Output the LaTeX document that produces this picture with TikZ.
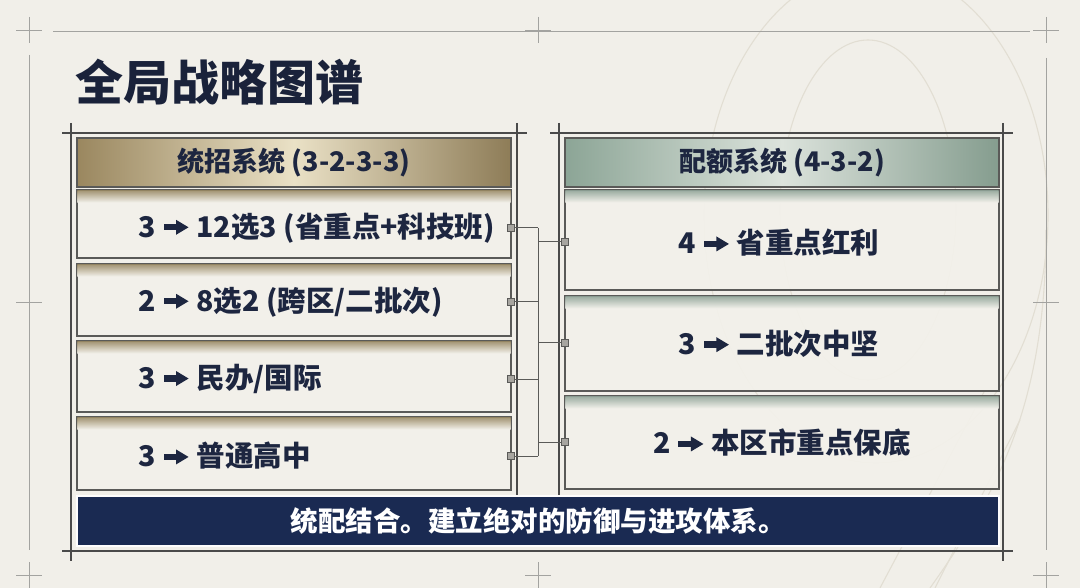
\documentclass[tikz,border=0pt]{standalone}
\usepackage{fontspec}
\newfontfamily\cjk{Noto Sans CJK SC}
\usetikzlibrary{calc}
\definecolor{bg}{HTML}{F1EFE9}
\definecolor{navy}{HTML}{1D2640}
\definecolor{barnavy}{HTML}{1A2A52}
\definecolor{boxline}{HTML}{5A5A58}
\definecolor{frameD}{HTML}{4A4A4A}
\definecolor{frameL}{HTML}{A3A3A0}
\definecolor{goldD}{HTML}{9A875F}
\definecolor{goldL}{HTML}{EAE1C6}
\definecolor{goldS}{HTML}{9C8C68}
\definecolor{sageD}{HTML}{8CA596}
\definecolor{sageL}{HTML}{DCE3DC}
\definecolor{sageS}{HTML}{93A69A}
\definecolor{rowfill}{HTML}{F3F1EB}
\definecolor{wm}{HTML}{E2DED3}
\definecolor{portfill}{HTML}{A7A5A0}
\newcommand\rarr{\hspace{8pt}\tikz[baseline={(0pt,-10pt)}]{\fill[navy] (0pt,-3.2pt) rectangle (14pt,3.2pt); \fill[navy] (12.5pt,-7.5pt) -- (25pt,0pt) -- (12.5pt,7.5pt) -- cycle;}\hspace{8pt}}
\tikzset{
  hdr/.style={draw=boxline, line width=1.2pt, minimum width=434pt, minimum height=49pt, inner sep=0pt,
    font=\cjk\bfseries\fontsize{27}{27}\selectfont, text=navy},
  hdrL/.style={hdr, left color=goldD, right color=goldD!92!black, middle color=goldL},
  hdrR/.style={hdr, left color=sageD, right color=sageD!95!black, middle color=sageL},
  rowbox/.style={draw=boxline, line width=1.1pt, fill=rowfill, fill opacity=0.9, minimum width=434pt, inner sep=0pt},
  lbl/.style={font=\cjk\bfseries\fontsize{28.5}{28.5}\selectfont, text=navy, inner sep=0pt},
  port/.style={draw=boxline, fill=portfill, line width=0.8pt, minimum size=7pt, inner sep=0pt},
  conn/.style={draw=boxline, line width=1pt},
  outerln/.style={draw=frameL, line width=0.8pt},
  innerln/.style={draw=frameD, line width=1.1pt},
  wmln/.style={draw=wm, line width=1.1pt},
  barbox/.style={draw=white!90!bg, line width=2pt, fill=barnavy, minimum width=922pt, minimum height=50pt, inner sep=0pt,
    font=\cjk\bfseries\fontsize{27.5}{27.5}\selectfont, text=white}
}
\begin{document}
\begin{tikzpicture}[x=1pt,y=-1pt]
\useasboundingbox (0,0) rectangle (1080,588);
\fill[bg] (0,0) rectangle (1080,588);

% watermark
\draw[wmln] (868,210) ellipse [x radius=88, y radius=170];
\draw[wmln] (876,215) ellipse [x radius=172, y radius=248];
\draw[wmln] (1046,230) .. controls (1046,400) and (1000,490) .. (930,588);
\draw[wmln] (985,390) -- (880,588);
\draw[wmln] (1020,420) -- (935,588);

% outer frame
\draw[outerln] (53,31) -- (1030,31);
\draw[outerln] (29,55) -- (29,550);
\draw[outerln] (1046,58) -- (1046,550);
\foreach \p in {(29,30),(538,30),(1046,30),(29,302),(1046,302),(29,575),(538,575),(1046,575)}{
  \draw[outerln] \p ++(-13,0) -- ++(26,0);
  \draw[outerln] \p ++(0,-13) -- ++(0,26);
}

% inner frames
\draw[innerln] (62,133) -- (527,133);
\draw[innerln] (71,123) -- (71,561);
\draw[innerln] (517,123) -- (517,496);
\draw[innerln] (550,133) -- (1013,133);
\draw[innerln] (559,123) -- (559,496);
\draw[innerln] (1003,123) -- (1003,561);
\draw[innerln] (62,551) -- (1013,551);

% title
\node[anchor=west, font=\cjk\bfseries\fontsize{48}{48}\selectfont, text=navy!90!black, inner sep=0pt] (title) at (75,82) {全局战略图谱};

% headers
\node[hdrL] (hL) at (294,162.5) {统招系统 (3-2-3-3)};
\node[hdrR] (hR) at (782,162.5) {配额系统 (4-3-2)};

% left rows
\node[rowbox, minimum height=68pt] (L1) at (294,224) {};
\node[rowbox, minimum height=72pt] (L2) at (294,300) {};
\node[rowbox, minimum height=71pt] (L3) at (294,376.5) {};
\node[rowbox, minimum height=73pt] (L4) at (294,453.5) {};
\foreach \n in {L1,L2,L3,L4}{
  \shade[top color=goldS, bottom color=rowfill, fill opacity=0.9] ($(\n.north west)+(1,1)$) rectangle ($(\n.north east)+(-1,13)$);
}
% right rows
\node[rowbox, minimum height=100pt] (R1) at (782,240) {};
\node[rowbox, minimum height=95pt] (R2) at (782,343.5) {};
\node[rowbox, minimum height=93pt] (R3) at (782,442.5) {};
\foreach \n in {R1,R2,R3}{
  \shade[top color=sageS, bottom color=rowfill, fill opacity=0.9] ($(\n.north west)+(1,1)$) rectangle ($(\n.north east)+(-1,13)$);
}

% labels
\node[lbl, anchor=west] (tL1) at (138,228) {3\rarr{}12选3 (省重点+科技班)};
\node[lbl, anchor=west] (tL2) at (138,302) {2\rarr{}8选2 (跨区/二批次)};
\node[lbl, anchor=west] (tL3) at (138,379) {3\rarr{}民办/国际};
\node[lbl, anchor=west] (tL4) at (138,456) {3\rarr{}普通高中};
\node[lbl] (tR1) at (779,243) {4\rarr{}省重点红利};
\node[lbl] (tR2) at (779,344) {3\rarr{}二批次中坚};
\node[lbl] (tR3) at (782,443) {2\rarr{}本区市重点保底};

% bottom bar
\node[barbox] (bar) at (538,521) {统配结合。建立绝对的防御与进攻体系。};

% connectors
\coordinate (b1) at (538,228);
\coordinate (b2) at (538,302);
\coordinate (b3) at (538,379);
\coordinate (b4) at (538,456);
\coordinate (c1) at (538,242);
\coordinate (c2) at (538,343);
\coordinate (c3) at (538,442);
\draw[conn] (b1) -- (b4);
\node[port] (pL1) at (511,228) {};
\node[port] (pL2) at (511,302) {};
\node[port] (pL3) at (511,379) {};
\node[port] (pL4) at (511,456) {};
\node[port] (pR1) at (565,242) {};
\node[port] (pR2) at (565,343) {};
\node[port] (pR3) at (565,442) {};
\draw[conn] (pL1) -- (b1);
\draw[conn] (pL2) -- (b2);
\draw[conn] (pL3) -- (b3);
\draw[conn] (pL4) -- (b4);
\draw[conn] (c1) -- (pR1);
\draw[conn] (c2) -- (pR2);
\draw[conn] (c3) -- (pR3);
\end{tikzpicture}
\end{document}
